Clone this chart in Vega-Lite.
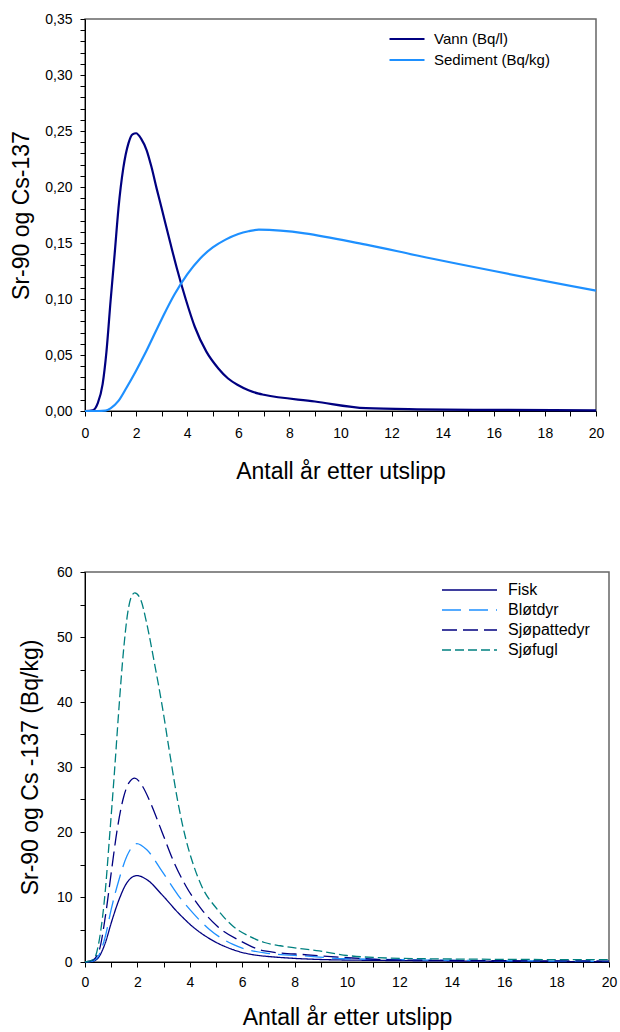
{
  "$schema": "https://vega.github.io/schema/vega-lite/v6.json",
  "background": "white",
  "padding": {"left": 10, "top": 11, "right": 5, "bottom": 5},
  "config": {
    "font": "Liberation Sans",
    "view": {"stroke": "#666666", "strokeWidth": 1.5},
    "axis": {
      "domainColor": "black", "tickColor": "black", "labelColor": "black", "titleColor": "black",
      "labelFontSize": 14, "titleFontSize": 23, "titleFontWeight": "normal", "grid": false,
      "tickSize": 5, "domainWidth": 1, "labelFont": "Liberation Sans", "titleFont": "Liberation Sans"
    },
    "legend": {"labelFont": "Liberation Sans", "labelColor": "black"}
  },
  "datasets": {
    "top": [
      {"x": 0, "y": 0, "series": "Vann (Bq/l)"},
      {"x": 0.3, "y": 0.0006, "series": "Vann (Bq/l)"},
      {"x": 0.5, "y": 0.007, "series": "Vann (Bq/l)"},
      {"x": 0.69, "y": 0.024, "series": "Vann (Bq/l)"},
      {"x": 0.84, "y": 0.053, "series": "Vann (Bq/l)"},
      {"x": 1.0, "y": 0.098, "series": "Vann (Bq/l)"},
      {"x": 1.16, "y": 0.14, "series": "Vann (Bq/l)"},
      {"x": 1.31, "y": 0.181, "series": "Vann (Bq/l)"},
      {"x": 1.5, "y": 0.217, "series": "Vann (Bq/l)"},
      {"x": 1.7, "y": 0.239, "series": "Vann (Bq/l)"},
      {"x": 1.86, "y": 0.247, "series": "Vann (Bq/l)"},
      {"x": 2.0, "y": 0.248, "series": "Vann (Bq/l)"},
      {"x": 2.2, "y": 0.243, "series": "Vann (Bq/l)"},
      {"x": 2.41, "y": 0.233, "series": "Vann (Bq/l)"},
      {"x": 2.6, "y": 0.218, "series": "Vann (Bq/l)"},
      {"x": 2.8, "y": 0.199, "series": "Vann (Bq/l)"},
      {"x": 3.0, "y": 0.181, "series": "Vann (Bq/l)"},
      {"x": 3.34, "y": 0.15, "series": "Vann (Bq/l)"},
      {"x": 3.6, "y": 0.127, "series": "Vann (Bq/l)"},
      {"x": 3.94, "y": 0.1, "series": "Vann (Bq/l)"},
      {"x": 4.3, "y": 0.075, "series": "Vann (Bq/l)"},
      {"x": 4.75, "y": 0.053, "series": "Vann (Bq/l)"},
      {"x": 5.22, "y": 0.038, "series": "Vann (Bq/l)"},
      {"x": 5.6, "y": 0.029, "series": "Vann (Bq/l)"},
      {"x": 6.0, "y": 0.023, "series": "Vann (Bq/l)"},
      {"x": 6.4, "y": 0.0185, "series": "Vann (Bq/l)"},
      {"x": 6.8, "y": 0.0155, "series": "Vann (Bq/l)"},
      {"x": 7.0, "y": 0.0145, "series": "Vann (Bq/l)"},
      {"x": 9.0, "y": 0.0085, "series": "Vann (Bq/l)"},
      {"x": 11.0, "y": 0.0025, "series": "Vann (Bq/l)"},
      {"x": 13.0, "y": 0.0015, "series": "Vann (Bq/l)"},
      {"x": 16.0, "y": 0.001, "series": "Vann (Bq/l)"},
      {"x": 20.0, "y": 0.0006, "series": "Vann (Bq/l)"},
      {"x": 0, "y": 0, "series": "Sediment (Bq/kg)"},
      {"x": 0.5, "y": 0, "series": "Sediment (Bq/kg)"},
      {"x": 0.8, "y": 0.0003, "series": "Sediment (Bq/kg)"},
      {"x": 1.0, "y": 0.0024, "series": "Sediment (Bq/kg)"},
      {"x": 1.31, "y": 0.009, "series": "Sediment (Bq/kg)"},
      {"x": 1.63, "y": 0.021, "series": "Sediment (Bq/kg)"},
      {"x": 2.0, "y": 0.036, "series": "Sediment (Bq/kg)"},
      {"x": 2.41, "y": 0.054, "series": "Sediment (Bq/kg)"},
      {"x": 3.0, "y": 0.082, "series": "Sediment (Bq/kg)"},
      {"x": 3.5, "y": 0.104, "series": "Sediment (Bq/kg)"},
      {"x": 4.0, "y": 0.122, "series": "Sediment (Bq/kg)"},
      {"x": 4.5, "y": 0.136, "series": "Sediment (Bq/kg)"},
      {"x": 5.0, "y": 0.146, "series": "Sediment (Bq/kg)"},
      {"x": 5.5, "y": 0.153, "series": "Sediment (Bq/kg)"},
      {"x": 6.0, "y": 0.158, "series": "Sediment (Bq/kg)"},
      {"x": 6.4, "y": 0.1605, "series": "Sediment (Bq/kg)"},
      {"x": 6.8, "y": 0.162, "series": "Sediment (Bq/kg)"},
      {"x": 11.0, "y": 0.1486, "series": "Sediment (Bq/kg)"},
      {"x": 13.0, "y": 0.1388, "series": "Sediment (Bq/kg)"},
      {"x": 20.0, "y": 0.1075, "series": "Sediment (Bq/kg)"}
    ],
    "bottom": [
      {"x": 0, "y": 0, "species": "Fisk"},
      {"x": 0.3, "y": 0.1, "species": "Fisk"},
      {"x": 0.55, "y": 0.9, "species": "Fisk"},
      {"x": 0.78, "y": 3.0, "species": "Fisk"},
      {"x": 1.0, "y": 6.0, "species": "Fisk"},
      {"x": 1.3, "y": 9.6, "species": "Fisk"},
      {"x": 1.6, "y": 12.2, "species": "Fisk"},
      {"x": 1.98, "y": 13.3, "species": "Fisk"},
      {"x": 2.35, "y": 12.7, "species": "Fisk"},
      {"x": 2.95, "y": 10.3, "species": "Fisk"},
      {"x": 3.55, "y": 7.6, "species": "Fisk"},
      {"x": 4.15, "y": 5.3, "species": "Fisk"},
      {"x": 4.75, "y": 3.6, "species": "Fisk"},
      {"x": 5.65, "y": 1.9, "species": "Fisk"},
      {"x": 6.85, "y": 0.9, "species": "Fisk"},
      {"x": 10, "y": 0.3, "species": "Fisk"},
      {"x": 20, "y": 0.05, "species": "Fisk"},
      {"x": 0, "y": 0, "species": "Bløtdyr"},
      {"x": 0.3, "y": 0.15, "species": "Bløtdyr"},
      {"x": 0.55, "y": 1.2, "species": "Bløtdyr"},
      {"x": 0.78, "y": 4.0, "species": "Bløtdyr"},
      {"x": 1.0, "y": 8.1, "species": "Bløtdyr"},
      {"x": 1.3, "y": 12.7, "species": "Bløtdyr"},
      {"x": 1.6, "y": 16.3, "species": "Bløtdyr"},
      {"x": 1.98, "y": 18.2, "species": "Bløtdyr"},
      {"x": 2.35, "y": 17.3, "species": "Bløtdyr"},
      {"x": 2.95, "y": 13.9, "species": "Bløtdyr"},
      {"x": 3.55, "y": 10.3, "species": "Bløtdyr"},
      {"x": 4.15, "y": 7.4, "species": "Bløtdyr"},
      {"x": 4.75, "y": 5.0, "species": "Bløtdyr"},
      {"x": 5.65, "y": 2.7, "species": "Bløtdyr"},
      {"x": 6.85, "y": 1.4, "species": "Bløtdyr"},
      {"x": 8.5, "y": 0.9, "species": "Bløtdyr"},
      {"x": 10, "y": 0.5, "species": "Bløtdyr"},
      {"x": 20, "y": 0.1, "species": "Bløtdyr"},
      {"x": 0, "y": 0, "species": "Sjøpattedyr"},
      {"x": 0.3, "y": 0.3, "species": "Sjøpattedyr"},
      {"x": 0.55, "y": 1.9, "species": "Sjøpattedyr"},
      {"x": 0.78, "y": 7.1, "species": "Sjøpattedyr"},
      {"x": 1.0, "y": 13.7, "species": "Sjøpattedyr"},
      {"x": 1.23, "y": 20.4, "species": "Sjøpattedyr"},
      {"x": 1.45, "y": 25.0, "species": "Sjøpattedyr"},
      {"x": 1.68, "y": 27.6, "species": "Sjøpattedyr"},
      {"x": 1.9, "y": 28.3, "species": "Sjøpattedyr"},
      {"x": 2.2, "y": 27.0, "species": "Sjøpattedyr"},
      {"x": 2.5, "y": 24.5, "species": "Sjøpattedyr"},
      {"x": 2.95, "y": 19.9, "species": "Sjøpattedyr"},
      {"x": 3.4, "y": 15.3, "species": "Sjøpattedyr"},
      {"x": 3.85, "y": 11.7, "species": "Sjøpattedyr"},
      {"x": 4.45, "y": 8.1, "species": "Sjøpattedyr"},
      {"x": 5.05, "y": 5.5, "species": "Sjøpattedyr"},
      {"x": 5.95, "y": 3.2, "species": "Sjøpattedyr"},
      {"x": 6.85, "y": 1.7, "species": "Sjøpattedyr"},
      {"x": 8.5, "y": 1.1, "species": "Sjøpattedyr"},
      {"x": 10, "y": 0.67, "species": "Sjøpattedyr"},
      {"x": 12, "y": 0.3, "species": "Sjøpattedyr"},
      {"x": 20, "y": 0.15, "species": "Sjøpattedyr"},
      {"x": 0, "y": 0, "species": "Sjøfugl"},
      {"x": 0.33, "y": 0.4, "species": "Sjøfugl"},
      {"x": 0.55, "y": 3.5, "species": "Sjøfugl"},
      {"x": 0.78, "y": 11.2, "species": "Sjøfugl"},
      {"x": 0.93, "y": 18.9, "species": "Sjøfugl"},
      {"x": 1.12, "y": 29.0, "species": "Sjøfugl"},
      {"x": 1.3, "y": 39.3, "species": "Sjøfugl"},
      {"x": 1.45, "y": 47.0, "species": "Sjøfugl"},
      {"x": 1.63, "y": 53.7, "species": "Sjøfugl"},
      {"x": 1.78, "y": 56.3, "species": "Sjøfugl"},
      {"x": 1.9, "y": 56.8, "species": "Sjøfugl"},
      {"x": 2.13, "y": 55.7, "species": "Sjøfugl"},
      {"x": 2.35, "y": 52.2, "species": "Sjøfugl"},
      {"x": 2.65, "y": 46.0, "species": "Sjøfugl"},
      {"x": 2.95, "y": 39.3, "species": "Sjøfugl"},
      {"x": 3.25, "y": 31.7, "species": "Sjøfugl"},
      {"x": 3.55, "y": 24.5, "species": "Sjøfugl"},
      {"x": 3.85, "y": 18.9, "species": "Sjøfugl"},
      {"x": 4.15, "y": 14.8, "species": "Sjøfugl"},
      {"x": 4.45, "y": 11.7, "species": "Sjøfugl"},
      {"x": 5.05, "y": 8.1, "species": "Sjøfugl"},
      {"x": 5.65, "y": 5.5, "species": "Sjøfugl"},
      {"x": 6.25, "y": 4.0, "species": "Sjøfugl"},
      {"x": 6.85, "y": 3.0, "species": "Sjøfugl"},
      {"x": 7.45, "y": 2.5, "species": "Sjøfugl"},
      {"x": 8.94, "y": 1.7, "species": "Sjøfugl"},
      {"x": 10, "y": 1.0, "species": "Sjøfugl"},
      {"x": 11, "y": 0.7, "species": "Sjøfugl"},
      {"x": 13, "y": 0.5, "species": "Sjøfugl"},
      {"x": 20, "y": 0.35, "species": "Sjøfugl"}
    ]
  },
  "resolve": {
    "scale": {"color": "independent", "strokeDash": "independent"},
    "legend": {"color": "independent", "strokeDash": "independent"}
  },
  "vconcat": [
    {
      "width": 511,
      "height": 392,
      "data": {"name": "top"},
      "mark": {"type": "line", "interpolate": "monotone", "strokeWidth": 2.2},
      "encoding": {
        "x": {
          "field": "x", "type": "quantitative",
          "scale": {"domain": [0, 20], "nice": false},
          "axis": {
            "title": "Antall år etter utslipp",
            "values": [0,1,2,3,4,5,6,7,8,9,10,11,12,13,14,15,16,17,18,19,20],
            "labelExpr": "datum.value % 2 === 0 ? datum.label : ''",
            "labelOverlap": false, "labelFlush": false,
            "labelPadding": 10, "titlePadding": 20
          }
        },
        "y": {
          "field": "y", "type": "quantitative",
          "scale": {"domain": [0, 0.35], "nice": false},
          "axis": {
            "title": "Sr-90 og Cs-137",
            "values": [0,0.01,0.02,0.03,0.04,0.05,0.06,0.07,0.08,0.09,0.1,0.11,0.12,0.13,0.14,0.15,0.16,0.17,0.18,0.19,0.2,0.21,0.22,0.23,0.24,0.25,0.26,0.27,0.28,0.29,0.3,0.31,0.32,0.33,0.34,0.35],
            "labelExpr": "round(datum.value*100) % 5 === 0 ? replace(format(datum.value, '.2f'), '.', ',') : ''",
            "labelOverlap": false,
            "labelPadding": 8, "titlePadding": 11
          }
        },
        "color": {
          "field": "series", "type": "nominal",
          "scale": {"domain": ["Vann (Bq/l)", "Sediment (Bq/kg)"], "range": ["#000080", "#1E90FF"]},
          "legend": {
            "title": null, "orient": "none", "legendX": 303, "legendY": 12,
            "symbolType": "stroke", "symbolSize": 1225, "symbolStrokeWidth": 2.2,
            "clipHeight": 16, "rowPadding": 5, "labelFontSize": 15, "labelOffset": 8
          }
        }
      }
    },
    {
      "width": 524,
      "height": 390,
      "data": {"name": "bottom"},
      "mark": {"type": "line", "interpolate": "monotone", "strokeWidth": 1.3},
      "encoding": {
        "x": {
          "field": "x", "type": "quantitative",
          "scale": {"domain": [0, 20], "nice": false},
          "axis": {
            "title": "Antall år etter utslipp",
            "values": [0,1,2,3,4,5,6,7,8,9,10,11,12,13,14,15,16,17,18,19,20],
            "labelExpr": "datum.value % 2 === 0 ? datum.label : ''",
            "labelOverlap": false, "labelFlush": false,
            "labelPadding": 8, "titlePadding": 17
          }
        },
        "y": {
          "field": "y", "type": "quantitative",
          "scale": {"domain": [0, 60], "nice": false},
          "axis": {
            "title": "Sr-90 og Cs -137 (Bq/kg)",
            "values": [0,5,10,15,20,25,30,35,40,45,50,55,60],
            "labelExpr": "datum.value % 10 === 0 ? datum.label : ''",
            "labelOverlap": false,
            "labelPadding": 8, "titlePadding": 14
          }
        },
        "color": {
          "field": "species", "type": "nominal",
          "scale": {"domain": ["Fisk", "Bløtdyr", "Sjøpattedyr", "Sjøfugl"], "range": ["#000080", "#1E90FF", "#000080", "#008080"]},
          "legend": {
            "title": null, "orient": "none", "legendX": 356, "legendY": 10,
            "symbolType": "stroke", "symbolSize": 3025, "symbolStrokeWidth": 1.3,
            "clipHeight": 16, "rowPadding": 4, "labelFontSize": 16, "labelOffset": 10
          }
        },
        "strokeDash": {
          "field": "species", "type": "nominal",
          "scale": {"domain": ["Fisk", "Bløtdyr", "Sjøpattedyr", "Sjøfugl"], "range": [[1, 0], [19, 8], [15, 6], [9, 4]]},
          "legend": {
            "title": null, "orient": "none", "legendX": 356, "legendY": 10,
            "symbolType": "stroke", "symbolSize": 3025, "symbolStrokeWidth": 1.3,
            "clipHeight": 16, "rowPadding": 4, "labelFontSize": 16, "labelOffset": 10
          }
        }
      }
    }
  ],
  "spacing": 80
}
